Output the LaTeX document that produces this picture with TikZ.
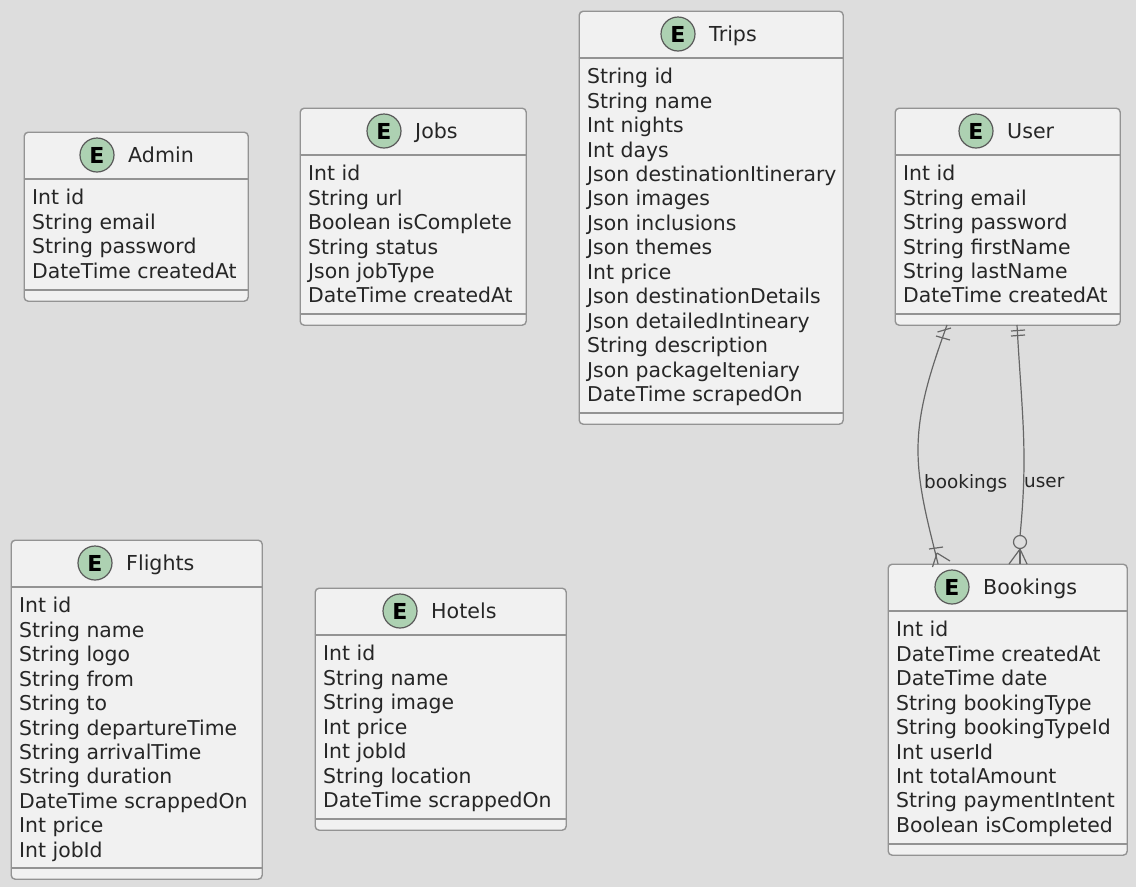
\documentclass[tikz,border=0pt]{standalone}
\usepackage{fontspec}
\setmainfont{DejaVu Sans}
\usepackage{tikz}
\definecolor{bgGray}{HTML}{DDDDDD}
\definecolor{boxFill}{HTML}{F1F1F1}
\definecolor{boxLine}{HTML}{939393}
\definecolor{spotFill}{HTML}{ADD1B2}
\tikzset{
  entitybox/.style={draw=boxLine, fill=boxFill, line width=1.4pt, rounded corners=4pt, inner sep=0pt, anchor=north west},
  spot/.style={circle, draw=black!65, fill=spotFill, line width=1.2pt, minimum size=34pt, inner sep=0pt, font=\fontsize{22}{22}\selectfont\bfseries},
  titletext/.style={anchor=west, inner sep=0pt, text=black!85, font=\fontsize{20.6}{20.6}\selectfont},
  rowtext/.style={anchor=west, inner sep=0pt, text=black!85, font=\fontsize{20.4}{20.4}\selectfont},
  rel/.style={draw=black!60, line width=1.2pt},
  rellabel/.style={anchor=west, inner sep=0pt, text=black!85, font=\fontsize{18.4}{18.4}\selectfont}
}
% name, left, top, right, bottom, spot x, title, rows
\newcommand{\entity}[8]{
  \node[entitybox, minimum width=#4pt-#2pt, minimum height=#5pt-#3pt] (#1) at (#2-0.5,#3-0.5) {};
  \draw[boxLine, line width=1.3pt] (#2-0.5,#3+47) -- (#4-0.5,#3+47);
  \draw[boxLine, line width=1.3pt] (#2-0.5,#5-11) -- (#4-0.5,#5-11);
  \node[spot] (#1Spot) at (#6,#3+23) {E};
  \node[titletext] (#1Title) at (#6+31,#3+26) {\strut#7};
  \foreach \rowname [count=\i from 0] in {#8}
    \node[rowtext] (#1Row\i) at (#2+8,#3+68+24.46*\i) {\strut\rowname};
}

\begin{document}
\begin{tikzpicture}[x=1pt,y=-1pt]
\fill[bgGray] (0,0) rectangle (1136,887);
\useasboundingbox (0,0) rectangle (1136,887);

\entity{Admin}{24}{132}{248}{301}{97}{Admin}{Int id,String email,String password,DateTime createdAt}
\entity{Jobs}{300}{108}{526}{325}{384}{Jobs}{Int id,String url,Boolean isComplete,String status,Json jobType,DateTime createdAt}
\entity{Trips}{579}{11}{843}{424}{678}{Trips}{String id,String name,Int nights,Int days,Json destinationItinerary,Json images,Json inclusions,Json themes,Int price,Json destinationDetails,Json detailedIntineary,String description,Json packageIteniary,DateTime scrapedOn}
\entity{User}{895}{108}{1120}{325}{976}{User}{Int id,String email,String password,String firstName,String lastName,DateTime createdAt}
\entity{Flights}{11}{540}{262}{879}{95}{Flights}{Int id,String name,String logo,String from,String to,String departureTime,String arrivalTime,String duration,DateTime scrappedOn,Int price,Int jobId}
\entity{Hotels}{315}{588}{566}{830}{400}{Hotels}{Int id,String name,String image,Int price,Int jobId,String location,DateTime scrappedOn}
\entity{Bookings}{888}{564}{1127}{855}{952}{Bookings}{Int id,DateTime createdAt,DateTime date,String bookingType,String bookingTypeId,Int userId,Int totalAmount,String paymentIntent,Boolean isCompleted}

% bookings relation
\coordinate (bookingsFrom) at (947,325);
\coordinate (bookingsTo) at (938,564);
\draw[rel] (bookingsFrom) .. controls (930,372) and (918,410) .. (918,450)
  .. controls (918,490) and (930,530) .. (bookingsTo);
\draw[rel] (937.5,332) -- (951,328);
\draw[rel] (936,336) -- (950,340);
\draw[rel] (929,549) -- (943,547);
\draw[rel] (937,553) -- (932.5,567);
\draw[rel] (937,553) -- (950,561);
\node[rellabel] (bookingsLabel) at (924,484) {\strut bookings};

% user relation
\coordinate (userFrom) at (1017,325);
\coordinate (userTo) at (1020,536);
\draw[rel] (userFrom) .. controls (1020,380) and (1024,420) .. (1024,460)
  .. controls (1024,490) and (1022,515) .. (userTo);
\draw[rel] (1011,331) -- (1025,330);
\draw[rel] (1011,336) -- (1025,335);
\node[circle, rel, minimum size=13pt, inner sep=0pt] (userCircle) at (1020,542) {};
\draw[rel] (userCircle.south) -- (1009,564);
\draw[rel] (userCircle.south) -- (1020,564);
\draw[rel] (userCircle.south) -- (1027,564);
\node[rellabel] (userLabel) at (1024,484) {\strut user};

\end{tikzpicture}
\end{document}
